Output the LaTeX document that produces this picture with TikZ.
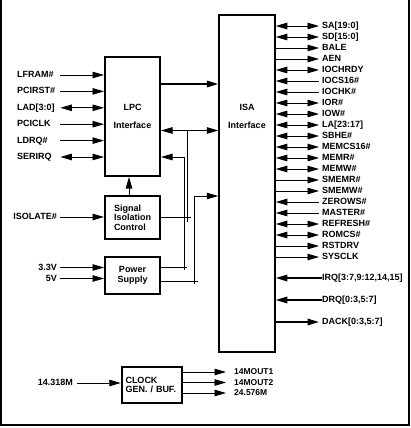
\documentclass[tikz,border=0pt]{standalone}
\usepackage{fontspec}
\setmainfont{Liberation Sans}
\usetikzlibrary{arrows.meta}

\begin{document}
\begin{tikzpicture}[x=1pt, y=-1pt,
  font=\fontsize{9}{9.5}\selectfont\bfseries,
  blk/.style={draw, line width=2pt, inner sep=0pt},
  lab/.style={inner sep=0pt, text height=6.5pt, text depth=1.5pt},
  wire/.style={line width=0.9pt},
  sigout/.style={wire, -{Triangle[length=11.5pt,width=6.5pt]}},
  sigin/.style={wire, {Triangle[length=11.5pt,width=6.5pt]}-},
  sigboth/.style={wire, {Triangle[length=11.5pt,width=6.5pt]}-{Triangle[length=11.5pt,width=6.5pt]}}]
\useasboundingbox (0,0) rectangle (411,428);
% Frame
\draw[line width=1.5pt] (1,0) -- (1,425) -- (409,425) -- (409,0);
% Blocks
\node[blk, minimum width=55, minimum height=119, align=center] (lpc) at (132.5,116.5) {LPC\\[8.5pt]Interface};
\node[blk, minimum width=55.5, minimum height=337] (isa) at (247,183.5) {};
\node[align=center] (isatext) at (247,116) {ISA\\[8.5pt]Interface};
\node[blk, minimum width=55, minimum height=43, align=left] (sic) at (132.5,217.5) {Signal\\Isolation\\Control};
\node[blk, minimum width=55, minimum height=37, align=center] (psu) at (132.5,275.5) {Power\\Supply};
\node[blk, minimum width=60.5, minimum height=36, text width=53, align=left] (clk) at (152,385) {CLOCK\\GEN. / BUF.};
% LPC side
\foreach \nm/\lbl/\dir [count=\i from 0] in {lfram/LFRAM\#/sigout, pcirst/PCIRST\#/sigout, lad/LAD[3:0]/sigboth, pciclk/PCICLK/sigout, ldrq/LDRQ\#/sigout, serirq/SERIRQ/sigboth}{
  \node[lab, anchor=west, text width=40pt, align=left] (\nm) at (17,75+16.4*\i) {\lbl};
  \draw[\dir, shorten <=3pt] (\nm) -- (lpc.west |- \nm);
}
\node[lab, anchor=east] (isolate) at (57,217) {ISOLATE\#};
\draw[sigout, shorten <=3pt] (isolate) -- (sic.west |- isolate);
\node[lab, anchor=east] (vlow) at (57,267.5) {3.3V};
\draw[sigout, shorten <=3pt] (vlow) -- (psu.west |- vlow);
\node[lab, anchor=east] (vhigh) at (57,278.5) {5V};
\draw[sigout, shorten <=3pt] (vhigh) -- (psu.west |- vhigh);
\draw[sigout] (sic.north -| 129,0) -- (lpc.south -| 129,0);
% Between LPC and ISA
\draw[sigout, line width=2pt] (lpc.east |- 0,84) -- (isa.west |- 0,84);
\draw[sigboth] (lpc.east |- 0,130.5) -- (isa.west |- 0,130.5);
\draw[wire] (187,130.5) -- (187,222);
\draw[wire] (sic.east |- 0,217) -- (191,217);
\draw[sigin] (lpc.east |- 0,157) -- (184,157) -- (184,270);
\draw[wire] (psu.east |- 0,267) -- (187,267);
\draw[sigout] (194,284) -- (194,196) -- (isa.west |- 0,196);
\draw[wire] (psu.east |- 0,281.5) -- (198,281.5);
% ISA side
\foreach \lbl/\dir [count=\i from 0] in {SA[19:0]/sigboth, SD[15:0]/sigboth, BALE/sigout, AEN/sigout, IOCHRDY/sigboth, IOCS16\#/sigin, IOCHK\#/sigin, IOR\#/sigboth, IOW\#/sigboth, LA[23:17]/sigboth, SBHE\#/sigboth, MEMCS16\#/sigboth, MEMR\#/sigboth, MEMW\#/sigboth, SMEMR\#/sigout, SMEMW\#/sigout, ZEROWS\#/sigin, MASTER\#/sigin, REFRESH\#/sigboth, ROMCS\#/sigboth, RSTDRV/sigout, SYSCLK/sigout}{
  \node[lab, anchor=west] (sig\i) at (322,26+11*\i) {\lbl};
  \draw[\dir, shorten >=3pt] (isa.east |- sig\i.west) -- (sig\i.west);
}
\node[lab, anchor=west] (irq) at (322,278) {IRQ[3:7,9:12,14,15]};
\draw[sigin, line width=1.6pt] (isa.east |- irq.west) -- (irq.west);
\node[lab, anchor=west] (drq) at (322,300) {DRQ[0:3,5:7]};
\draw[sigin, line width=1.6pt] (isa.east |- drq.west) -- (drq.west);
\node[lab, anchor=west] (dack) at (322,322) {DACK[0:3,5:7]};
\draw[sigout, line width=1.6pt, shorten >=3pt] (isa.east |- dack.west) -- (dack.west);
% Clock
\node[lab, anchor=east] (osc) at (73,383) {14.318M};
\draw[sigout, shorten <=4pt] (osc) -- (clk.west |- osc);
\foreach \nm/\lbl [count=\i from 0] in {mout/14MOUT1, mouttwo/14MOUT2, mfast/24.576M}{
  \node[lab, anchor=west, font=\fontsize{8.5}{9}\selectfont\bfseries] (\nm) at (234,372+10.5*\i) {\lbl};
  \draw[sigout, shorten >=8pt] (clk.east |- \nm.west) -- (\nm.west);
}
\end{tikzpicture}
\end{document}
